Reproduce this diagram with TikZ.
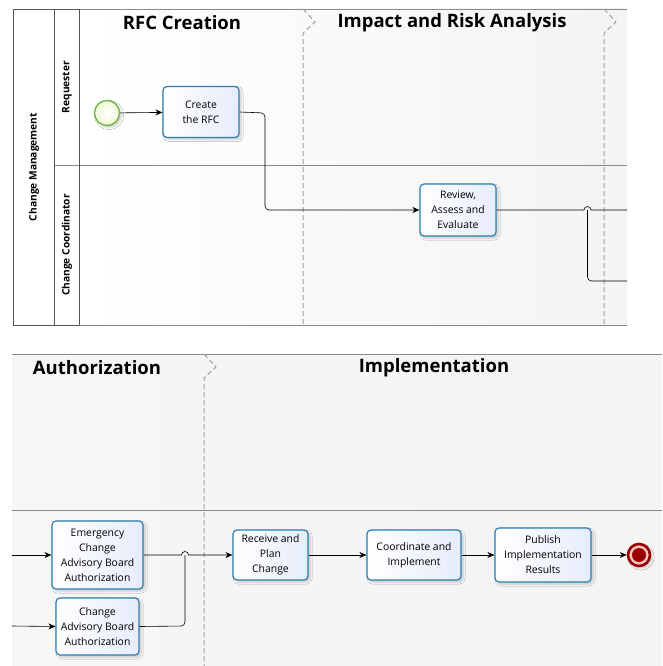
\documentclass[tikz,border=0pt]{standalone}
\usepackage{fontspec}
\setmainfont{Open Sans}
\usepackage{tikz}
\usetikzlibrary{arrows.meta, positioning, calc, shadows.blur}
\definecolor{taskline}{HTML}{2C7FB0}
\definecolor{taskfill}{HTML}{E6ECFA}
\definecolor{startline}{HTML}{6DB33F}
\definecolor{startfill}{HTML}{EEF8D6}
\definecolor{endred}{HTML}{9B0000}
\definecolor{endring}{HTML}{F2C4C4}
\definecolor{poolline}{HTML}{555555}
\definecolor{laneline}{HTML}{8A8A8A}
\definecolor{sepgray}{HTML}{A0A0A0}

\tikzset{
  task/.style={draw=taskline, line width=1.2pt, rounded corners=4pt,
    left color=white, right color=taskfill, align=center, inner sep=1pt,
    font=\fontsize{10.4}{15}\selectfont,
    blur shadow={shadow xshift=2pt, shadow yshift=-2pt, shadow opacity=20, shadow blur steps=6}},
  flow/.style={line width=0.6pt, -{Stealth[length=7pt, width=6pt]}},
  wire/.style={line width=0.6pt},
  phase/.style={font=\bfseries\fontsize{18.5}{20}\selectfont},
  lanelabel/.style={rotate=90, font=\bfseries\fontsize{10.2}{12}\selectfont},
  sep/.style={draw=sepgray, line width=1pt, dash pattern=on 5pt off 3pt},
}

\begin{document}
\begin{tikzpicture}[x=1pt, y=-1pt]
  \useasboundingbox (0,0) rectangle (662,666);

  % top panel: lanes
  \fill[left color=white, right color=gray!9] (79,9) rectangle (627,325);
  \fill[white] (13,9) rectangle (79,325);
  \draw[laneline, line width=0.8pt] (79,9) -- (627,9);
  \draw[laneline, line width=0.8pt] (79,325) -- (627,325);
  \draw[laneline, line width=0.8pt] (54,165) -- (627,165);
  \draw[poolline, line width=0.8pt] (79,9) -- (13,9) -- (13,325) -- (79,325);
  \draw[poolline, line width=0.8pt] (54,9) -- (54,325);
  \draw[poolline, line width=0.8pt] (79,9) -- (79,325);
  \node[lanelabel] (pool) at (34,167) {Change Management};
  \node[lanelabel] (laneA) at (67,87) {Requester};
  \node[lanelabel] (laneB) at (67,245) {Change Coordinator};

  % phase separators, top panel
  \foreach \x in {303,604} {
    \draw[sep] (\x,9) -- (\x+12,22) -- (\x,33) -- (\x,325);
  }
  \node[phase] (phA) at (182,23) {RFC Creation};
  \node[phase] (phB) at (452,23) {Impact and Risk Analysis};

  % bottom panel
  \fill[left color=gray!7, right color=gray!9] (12,354) rectangle (662,666);
  \draw[laneline, line width=0.8pt] (12,354) -- (662,354);
  \draw[laneline, line width=0.8pt] (12,510) -- (662,510);
  \draw[sep] (204,354) -- (216,367) -- (204,378) -- (204,666);
  \node[phase] (phC) at (97,368) {Authorization};
  \node[phase] (phD) at (434,368) {Implementation};

  % events and tasks
  \node[circle, draw=startline, line width=1.3pt, inner color=white, outer color=startfill,
    minimum size=25pt, blur shadow={shadow xshift=2pt, shadow yshift=-2pt, shadow opacity=20}] (start) at (107,113) {};
  \node[task, minimum width=76pt, minimum height=51pt] (create) at (201,112) {Create\\the RFC};
  \node[task, minimum width=76pt, minimum height=52pt] (review) at (458,210) {Review,\\Assess and\\Evaluate};
  \node[task, minimum width=91pt, minimum height=68pt] (ecab) at (97.5,555) {Emergency\\Change\\Advisory Board\\Authorization};
  \node[task, minimum width=83pt, minimum height=57pt] (cab) at (97.5,626.5) {Change\\Advisory Board\\Authorization};
  \node[task, minimum width=75pt, minimum height=50pt] (plan) at (270.5,555) {Receive and\\Plan\\Change};
  \node[task, minimum width=94pt, minimum height=50pt] (impl) at (414,555) {Coordinate and\\Implement};
  \node[task, minimum width=96pt, minimum height=54pt] (publ) at (543,555) {Publish\\Implementation\\Results};
  \node[circle, draw=endred, line width=2.6pt, fill=endring, minimum size=22pt,
    blur shadow={shadow xshift=2pt, shadow yshift=-2pt, shadow opacity=20}] (stop) at (639,555) {};
  \fill[endred] (stop.center) circle (7pt);

  % loose ends at the panel edges
  \coordinate (outE) at (627,210);
  \coordinate (outC) at (627,281);
  \coordinate (inE) at (12,555);
  \coordinate (inC) at (12,626);

  % sequence flows
  \draw[flow] (start) -- (create);
  \draw[flow, rounded corners=4pt] (create.east) -- (265,113) -- (265,210) -- (review.west);
  \draw[wire] (review.east) -- (584,210) arc (180:360:3.5) -- (outE);
  \draw[wire, rounded corners=4pt] (587.5,210) -- (587.5,281) -- (outC);
  \draw[flow] (inE) -- (ecab.west);
  \draw[flow] (inC) -- (cab.west);
  \draw[flow] (ecab.east) -- (181.5,555) arc (180:360:3.5) -- (plan.west);
  \draw[wire, rounded corners=4pt] (cab.east) -- (185,626) -- (185,555);
  \draw[flow] (plan) -- (impl);
  \draw[flow] (impl) -- (publ);
  \draw[flow] (publ) -- (stop);
\end{tikzpicture}
\end{document}
